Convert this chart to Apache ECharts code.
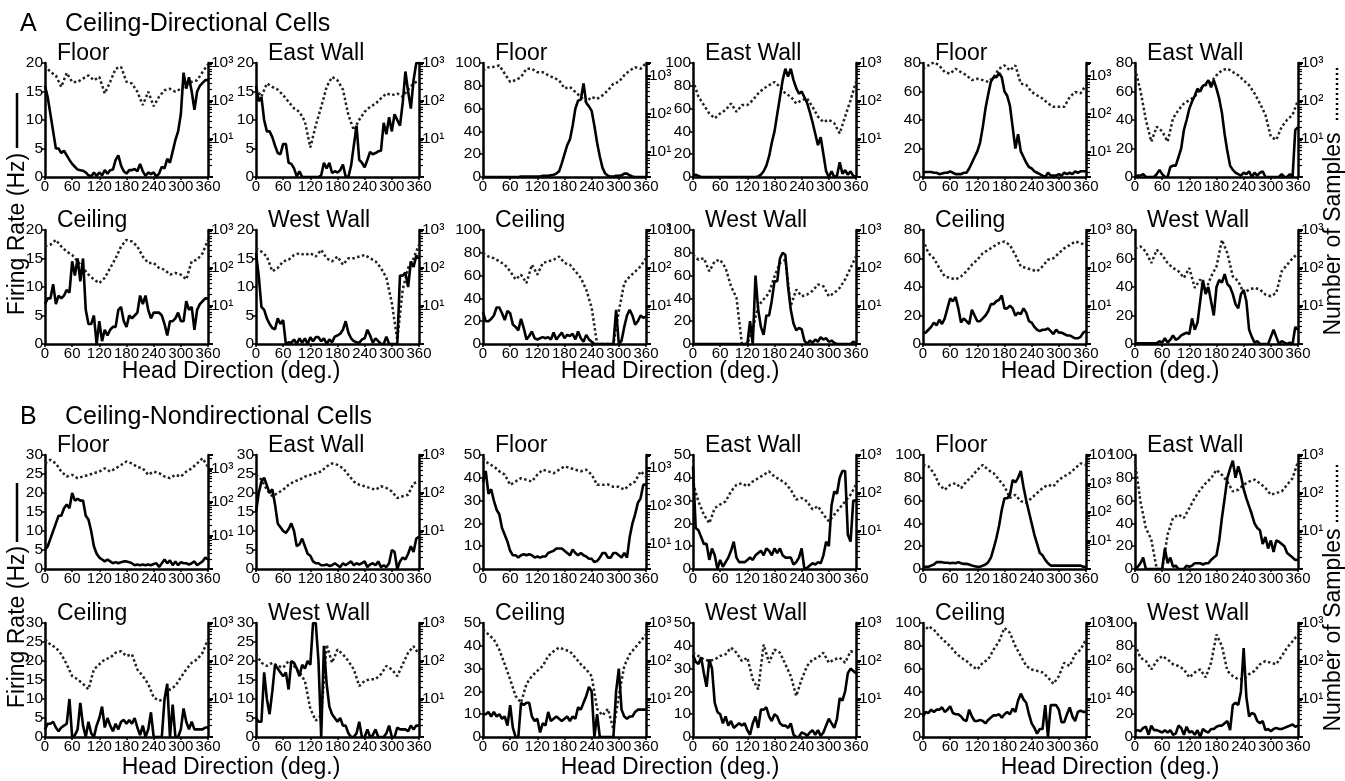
<!DOCTYPE html>
<html>
<head>
<meta charset="utf-8">
<script src="https://cdn.jsdelivr.net/npm/echarts@6/dist/echarts.min.js"></script>
<style>
  html, body { margin: 0; padding: 0; background: #fff; }
  #chart { width: 1345px; height: 781px; }
</style>
</head>
<body>
<div id="chart"></div>
<script>
// firing rate (Hz), one value every 6 deg from 0 to 360
var rateA1Floor = [16,14,11,8,5,5,4.2,4.6,3.8,3, 2.3,1.8,1.3,1.2,1.1,0.8,0.3,0.1,0.8,0.2, 0.8,0.3,1.2,0.6,1.2,1.3,3,3.8,2,1, 0.6,1.2,1.2,1.4,1,2.3,1,0.2,0.8,0.5, 0.8,0.1,0.6,1.8,1.5,3.2,2.5,4.5,6.5,8, 11,18.3,15.5,17.5,15,11.8,15,16,16.5,17, 17];
var rateA1East = [16,13.3,14,10,8,8,7,5.5,4.2,4, 5.8,5.8,2.5,2.3,1.5,0.1,1,0,0,0, 0,0,0,0,0.3,2.5,1.5,2.5,0.7,1, 0.8,1.2,2.2,0.1,0,2,5.5,9,3,2.5, 1.7,3,4.4,4,4.2,4.5,4.6,9.5,7.5,10.5, 8,11,10,9,13,18.5,15,12,17,20, 20];
var rateA2Floor = [0,0,0,0,0,0,0,0,0,0, 0,0,0,0,0.3,0.5,0.5,0.5,0.5,0.3, 0.5,0.5,1,1,1,1.5,2,3,5,12, 20,28,33,45,60,67,68,82,65,62, 58,45,30,18,8,3,1,0.5,0.5,1, 1,1.5,3,3,1.5,0.5,0,0,0,0, 0];
var rateA2East = [1,2,1,0,0,0,0,0,0,0, 0,0,0,0,0,0,0,0,0,0, 0,0,0,0,0.5,2,5,10,18,30, 40,55,70,85,95,88,95,85,78,73, 75,70,65,57,48,38,28,35,20,5, 0,5,0,1,13,3,6,2,5,1, 0];
var rateA3Floor = [3,3.5,3.5,3.5,3,3,2,2.5,3,3, 4,3,2,2,2,3,3,6,10,14, 18,24,35,48,58,67,70,70,73,70, 60,57,50,35,20,30,18,14,10,7, 6,4,3,2,1,0,3,1,1,1, 2,1,3,2,3,2,4,3,4,4, 4];
var rateA3East = [0,1,1,2,0,0,0,0,2,5, 2,0,0,7,8,8,14,20,33,40, 48,53,57,62,60,64,65,68,63,68, 62,55,45,30,18,8,5,3,2,1, 3,2,4,0,3,1,3,4,0,0, 0,0,0,0,2,0,0,2,0,33, 35];
var rateA1Ceiling = [7,8,8,10.5,7,8.5,8,8.5,9.5,9, 14.5,12,15,11,15,6,3.5,3.5,5,0, 4,0.5,2.5,1.5,2.5,3,3,6,6.5,4, 3,5,4.5,5,5.5,8.5,7,8.5,6,4.5, 5.5,5.5,5.5,5,3.5,1.5,4,4,4.5,5.5, 4,4,7.5,6,6.5,2.5,6,7,7.5,8, 8];
var rateA1West = [16,12,6.5,6,4.5,3.5,2.8,2.6,4.5,3.5, 4.2,0,0.3,0.2,0.8,0,1,0.2,1,0, 1.2,0.5,1.2,1.2,0.5,1,0,0.8,0.3,1.3, 1.5,1.8,2.5,4,2,1,0.5,0.3,0.2,0.8, 1,2.5,1.5,0.2,1,0.5,0,0,1.3,0, 0,0,0,12,12,12.5,10,14.5,13.5,15.5, 15];
var rateA2Ceiling = [28,20,20,22,25,32,32,27,21,29, 27,17,15,12,22,14,4,7,11,5, 4,5,6,5,6,4,10,4,7,10, 5,8,7,9,4,11,5,2,8,4, 2,0,0,0,0,0,0,0,0,30, 0,3,15,25,30,25,17,20,25,23, 24];
var rateA2West = [0,0,0,0,0,0,0,0,0,0, 0,0,0,0,0,0,0,0,0,0, 0,20,0,60,30,15,8,25,25,38, 55,55,75,80,78,50,30,18,12,14, 13,3,0,3,1,4,2,6,4,5, 2,3,1,0,0,0,0,0,0,2, 1];
var rateA3Ceiling = [8,8,10,12,15,13,17,14,18,25, 32,30,33,25,15,18,16,14,24,20, 16,16,18,20,23,28,28,30,31,34, 25,25,27,25,20,22,21,25,22,16, 15,12,10,9,10,10,11,9,7,10, 8,8,7,6,6,5,4,4,5,8, 9];
var rateA3West = [0.5,0.5,0.5,0.5,0.5,0.5,0.5,0.5,0.5,2, 1,4,1,3,6,3,4,6,7,8, 7,18,10,15,30,45,35,40,30,20, 40,45,43,49,42,40,35,28,25,35, 38,30,10,5,1,2,0,0,0,0, 5,10,5,0,2,1,0,1,0,12, 10];

var rateB1Floor = [5,6,8,10,12,14,14,16,17,16, 20,18,18.5,18,18,14,13,10,6,4, 3,2.5,2,2.5,2,1.5,1.8,1.5,1.8,2, 2,1.8,1.5,1,1.2,1,1.2,1,1.2,1, 1.3,1.5,0.5,1.5,2.5,1.5,2.3,1,2,1, 1.8,1.5,1.5,1.2,1.5,2,1,1.5,2,3, 2.5];
var rateB1East = [15,20,23,24,22,20,21,17,12,11, 10,9.5,10.5,12,10,6,6.5,8,6,4, 3.5,2,1.5,1.5,1,1,1.2,0.8,1,1.5, 1,0.5,1.5,1,1.5,2,1,1.5,1.2,1.5, 2,0.5,1.2,1.5,1,2,0.5,1,0.5,1.5, 5,4.5,0,2,3,2.5,4,6,4.5,8, 8.5];
var rateB2Floor = [38,43,33,35,30,26,24,18,15,12, 8,6,6,5,6,6.5,6,6.5,6,5, 5.5,5,5.5,5.5,7,7.5,8,9,9,9, 8,7,6,8.5,7,6,7,6,5.5,4.5, 4.5,3,3.5,5,7,7,5,5,7,7, 6,5,7,5,14,20,24,29,31,37, 37];
var rateB2East = [45,18,17,14,11,11,4,9,6,0, 4,1,3,5,8,12,5,3,3,3, 4,5,4,6,7,8,6,9,8,6, 9,7,9,6,5,5,5,2,3,5, 9,0,0.5,1.5,2.5,2,3,2.5,6,12, 10,28,34,33,40,43,43,15,12,30, 30];
var rateB3Floor = [2,2,2,3,4,6,6,6,5.5,5.5, 5,5.5,5,6,5,4.5,4.5,4,3,2.5, 2,2,3,4,6,10,18,27,38,52, 62,62,65,78,76,80,86,72,60,50, 40,30,22,14,12,8,5,3,3,3, 3,3,3,3,3,3,3,3,3,2, 2];
var rateB3East = [0,2,5,10,0,0,0,0,0,0, 0,18,5,10,2,3,0,0,0,3, 2,3,5,5,5,4,5,5,8,10, 12,25,45,62,80,88,95,80,90,82, 70,62,55,48,40,36,34,22,28,18, 25,15,25,24,22,20,14,12,10,8, 8];
var rateB1Ceiling = [2,3.5,3.5,4,2.5,1.5,2.5,3,3.5,10, 0,0.5,2,9,3,0,4,1,0,3, 5,8,2.5,5,3,1.5,3.5,2,4,4.5, 3.5,4.5,3.5,5,2.5,0.5,3,0,2,6.5, 0,0,0,0,10,14,0,8.5,0,0, 2,7.5,4,2,4,2,2,2,2,2.5, 2.5];
var rateB1West = [5,4,4,17,10,6,12,19,18,17, 16,17,12.5,20,19.5,18,16,19,18,20, 19,30,30,20,0,24,14,8,6,5, 4,5,3,3,1,0,0,1,4,0, 0,2,0,0.5,2,0,0,0,1,3, 0,0,2.5,2,2,2,1.5,3,2,3, 3];
var rateB2Ceiling = [10,10,11,9,11,9,10,8,9,5, 14,4,0,0,15,14,15,15,9,7, 8,2,6,5,11,7,8,9,8,7, 8,9,7,9,8,13,12,15,18,22, 20,0,10,0,0,0,0,0,0,20, 30,12,9,8,9,9,11,12,12,12, 12];
var rateB2West = [36,33,32,35,28,22,34,30,15,11, 10,6,9,5,7,4,5,6,5,6, 3,1,6,9,4,12,12,13,9,7, 10,9,6,5,5,4,6,1,0,0, 2,1.5,0.5,2,3,1,3,0.5,2,5, 8,6,4,8,17,16,20,28,30,29, 28];
var rateB3Ceiling = [18,22,21,24,22,24,24,26,22,24, 27,21,20,20,18,15,14,24,18,14, 14,15,14,12,15,17,19,19,20,17, 20,22,20,25,22,32,38,33,30,20, 12,8,3,7,7,28,0,28,28,28, 24,13,13,20,26,18,14,22,23,22, 22];
var rateB3West = [5,6,5,8,9,2,10,6,6,5, 4,6,4,6,2,3,10,8,2,9, 4,5,2,6,0,7,5,4,7,7, 9,10,10,12,14,6,28,30,28,40, 78,35,18,21,20,14,12,14,6,7, 5,7,8,7,7,8,9,10,11,9, 10];

// number of samples, one value every 12 deg from 0 to 360
var smpA1Floor = [870,580,470,235,550,316,316,390,470,350, 430,158,320,710,790,320,290,175,78,175, 73,130,192,210,175,210,260,320,350,580, 920];
var smpA1East = [213,130,290,235,200,142,95,64,52,29, 6,23,70,235,430,350,200,43,17,32, 52,70,85,117,158,142,158,130,200,290, 350];
var smpA2Floor = [1400,1700,1750,1900,1150,700,780,940,1550,1550, 1260,1260,1050,900,780,470,515,380,280,210, 280,250,310,420,630,700,1050,1400,1700,1550, 2200];
var smpA2East = [350,130,78,47,35,47,58,86,52,78, 78,105,158,213,260,316,235,158,130,86, 105,117,70,39,28,32,26,14,39,105, 316];
var smpA3Floor = [1550,1900,2300,1900,1260,1150,1550,1260,1050,780, 850,780,700,940,1550,1900,1400,1900,630,580, 380,310,255,190,155,155,155,280,380,350, 580];
var smpA3East = [710,190,32,8.5,21,16,8.5,35,58,86, 105,130,213,260,316,475,645,710,580,475, 350,260,158,86,43,11.5,9.5,21,32,43, 105];
var smpA1Ceiling = [370,410,550,370,270,220,150,100,67,50, 40,55,100,180,370,550,500,370,200,135, 135,100,90,67,74,67,50,150,165,245, 550];
var smpA1West = [330,270,200,82,100,150,165,220,245,220, 245,200,300,180,150,200,122,180,180,200, 220,180,150,100,55,12,1.3,27,100,180, 410];
var smpA2Ceiling = [245,200,180,150,122,82,50,67,40,122, 67,135,150,165,200,135,122,82,55,27, 9,1,1,1,1,7.4,40,60,80,110, 180];
var smpA2West = [220,165,180,82,150,165,100,33,16.5,1, 1,2.5,10,15,22,60,135,165,10,27, 18,20,25,37,33,18,22,30,50,100, 200];
var smpA3Ceiling = [550,245,180,100,60,55,50,60,82,122, 165,245,300,370,450,500,400,220,110,100, 90,82,110,165,180,245,330,400,500,450, 400];
var smpA3West = [330,370,270,135,300,220,135,100,82,55, 100,30,50,25,60,110,550,245,60,45, 22,27,30,27,20,18,22,82,122,180, 245];

var smpB1Floor = [1400,1800,1400,800,570,640,510,570,640,720, 800,1000,800,1000,1260,1600,1400,1100,1000,640, 800,720,570,510,640,570,800,1000,1400,2000, 1100];
var smpB1East = [300,225,122,82,100,122,165,200,225,270, 300,330,370,500,600,550,450,300,200,165, 150,135,122,150,135,110,74,82,90,180, 200];
var smpB2Floor = [1800,1300,1100,820,670,360,440,540,490,440, 670,900,820,730,900,1100,1000,900,820,900, 670,360,360,370,320,320,270,360,440,820, 600];
var smpB2East = [180,60,27,16,40,50,60,110,165,180, 150,200,245,300,370,270,225,180,122,67, 74,60,37,45,27,18,27,40,60,90, 165];
var smpB3Floor = [4500,4000,2300,900,600,900,1030,690,1180,1780, 3000,4500,3000,2300,1350,790,310,400,240,210, 310,465,690,900,790,1350,1780,2300,3400,5100, 4500];
var smpB3East = [670,60,12,6,1,1,8,22,27,22, 40,74,122,180,245,405,300,200,110,122, 165,200,225,180,135,90,100,110,165,245, 670];
var smpB1Ceiling = [370,270,225,150,82,40,33,25,18,60, 82,110,122,165,180,135,150,60,40,25, 11,9,10,18,22,37,60,90,110,165, 370];
var smpB1West = [150,90,74,90,74,67,100,74,50,30, 5.5,2.7,3.7,270,90,200,150,100,60,22, 30,33,33,45,74,60,40,82,165,245, 150];
var smpB2Ceiling = [670,500,370,200,82,33,12,8,25,40, 55,74,135,180,225,200,180,122,82,60, 40,5.5,3.7,5.5,1.6,12,74,150,225,330, 500];
var smpB2West = [165,135,110,100,110,135,150,225,165,100, 122,33,18,270,90,200,165,82,40,12, 33,74,110,122,165,90,110,122,90,180, 165];
var smpB3Ceiling = [550,820,670,450,330,245,165,122,100,74, 60,90,110,200,330,740,550,245,135,74, 60,55,50,37,25,40,90,74,150,200, 370];
var smpB3West = [270,122,100,60,100,135,110,82,74,60, 37,50,60,37,90,500,245,55,40,33, 33,45,55,82,100,90,82,135,225,330, 500];

var FONT = '"Liberation Sans", Arial, Helvetica, sans-serif';
var SUP = {1: '\u00b9', 2: '\u00b2', 3: '\u00b3', 4: '\u2074'};

var colLeft = [45, 256, 483, 693, 923, 1135];
var rowTop = [63, 230, 455, 623];
var plotW = 163, plotH = 114;

var panels = [
    {row: 0, col: 0, title: 'Floor', rate: rateA1Floor, smp: smpA1Floor, yMax: 20, yStep: 5, nMin: 1, nMax: 1000},
    {row: 0, col: 1, title: 'East Wall', rate: rateA1East, smp: smpA1East, yMax: 20, yStep: 5, nMin: 1, nMax: 1000},
    {row: 0, col: 2, title: 'Floor', rate: rateA2Floor, smp: smpA2Floor, yMax: 100, yStep: 20, nMin: 2.2, nMax: 2200},
    {row: 0, col: 3, title: 'East Wall', rate: rateA2East, smp: smpA2East, yMax: 100, yStep: 20, nMin: 1, nMax: 1000},
    {row: 0, col: 4, title: 'Floor', rate: rateA3Floor, smp: smpA3Floor, yMax: 80, yStep: 20, nMin: 2.2, nMax: 2200},
    {row: 0, col: 5, title: 'East Wall', rate: rateA3East, smp: smpA3East, yMax: 80, yStep: 20, nMin: 1, nMax: 1000},
    {row: 1, col: 0, title: 'Ceiling', rate: rateA1Ceiling, smp: smpA1Ceiling, yMax: 20, yStep: 5, nMin: 1, nMax: 1000},
    {row: 1, col: 1, title: 'West Wall', rate: rateA1West, smp: smpA1West, yMax: 20, yStep: 5, nMin: 1, nMax: 1000},
    {row: 1, col: 2, title: 'Ceiling', rate: rateA2Ceiling, smp: smpA2Ceiling, yMax: 100, yStep: 20, nMin: 1, nMax: 1000},
    {row: 1, col: 3, title: 'West Wall', rate: rateA2West, smp: smpA2West, yMax: 100, yStep: 20, nMin: 1, nMax: 1000},
    {row: 1, col: 4, title: 'Ceiling', rate: rateA3Ceiling, smp: smpA3Ceiling, yMax: 80, yStep: 20, nMin: 1, nMax: 1000},
    {row: 1, col: 5, title: 'West Wall', rate: rateA3West, smp: smpA3West, yMax: 80, yStep: 20, nMin: 1, nMax: 1000},
    {row: 2, col: 0, title: 'Floor', rate: rateB1Floor, smp: smpB1Floor, yMax: 30, yStep: 5, nMin: 1, nMax: 2500},
    {row: 2, col: 1, title: 'East Wall', rate: rateB1East, smp: smpB1East, yMax: 30, yStep: 5, nMin: 1, nMax: 1000},
    {row: 2, col: 2, title: 'Floor', rate: rateB2Floor, smp: smpB2Floor, yMax: 50, yStep: 10, nMin: 2.2, nMax: 2200},
    {row: 2, col: 3, title: 'East Wall', rate: rateB2East, smp: smpB2East, yMax: 50, yStep: 10, nMin: 1, nMax: 1000},
    {row: 2, col: 4, title: 'Floor', rate: rateB3Floor, smp: smpB3Floor, yMax: 100, yStep: 20, nMin: 1, nMax: 10000},
    {row: 2, col: 5, title: 'East Wall', rate: rateB3East, smp: smpB3East, yMax: 100, yStep: 20, nMin: 1, nMax: 1000},
    {row: 3, col: 0, title: 'Ceiling', rate: rateB1Ceiling, smp: smpB1Ceiling, yMax: 30, yStep: 5, nMin: 1, nMax: 1000},
    {row: 3, col: 1, title: 'West Wall', rate: rateB1West, smp: smpB1West, yMax: 30, yStep: 5, nMin: 1, nMax: 1000},
    {row: 3, col: 2, title: 'Ceiling', rate: rateB2Ceiling, smp: smpB2Ceiling, yMax: 50, yStep: 10, nMin: 1, nMax: 1000},
    {row: 3, col: 3, title: 'West Wall', rate: rateB2West, smp: smpB2West, yMax: 50, yStep: 10, nMin: 1, nMax: 1000},
    {row: 3, col: 4, title: 'Ceiling', rate: rateB3Ceiling, smp: smpB3Ceiling, yMax: 100, yStep: 20, nMin: 1, nMax: 1000},
    {row: 3, col: 5, title: 'West Wall', rate: rateB3West, smp: smpB3West, yMax: 100, yStep: 20, nMin: 1, nMax: 1000}
];

// values spread evenly over 0..360 deg
function toPoints(arr) {
    var step = 360 / (arr.length - 1);
    return arr.map(function (v, k) { return [k * step, v]; });
}

function powLabel(v) {
    var e = Math.log10(v), r = Math.round(e);
    if (r < 1 || Math.abs(e - r) > 1e-6) return '';
    return '10' + SUP[r];
}

function txt(x, y, text, size, extra) {
    var el = {
        type: 'text', x: x, y: y, silent: true,
        style: {
            text: text, fill: '#000', fontSize: size, fontFamily: FONT,
            textAlign: 'left', align: 'left', textVerticalAlign: 'middle', verticalAlign: 'middle'
        }
    };
    if (extra) {
        for (var k in extra) {
            if (k === 'align') { el.style.textAlign = extra[k]; el.style.align = extra[k]; }
            else el[k] = extra[k];
        }
    }
    return el;
}

var option = {
    animation: false,
    backgroundColor: '#fff',
    grid: [], xAxis: [], yAxis: [], series: [], graphic: []
};

var axisBase = {
    axisLine: {show: true, lineStyle: {color: '#000', width: 2.5}},
    splitLine: {show: false}
};

panels.forEach(function (p, i) {
    var left = colLeft[p.col], top = rowTop[p.row];
    option.grid.push({left: left, top: top, width: plotW, height: plotH});

    option.xAxis.push(Object.assign({
        type: 'value', gridIndex: i, min: 0, max: 360, interval: 60,
        axisTick: {show: true, length: 3, lineStyle: {color: '#000', width: 1.5}},
        axisLabel: {color: '#000', fontSize: 15, fontFamily: FONT, margin: 2}
    }, axisBase));

    option.yAxis.push(Object.assign({
        type: 'value', gridIndex: i, min: 0, max: p.yMax, interval: p.yStep, position: 'left',
        axisTick: {show: true, length: 3, lineStyle: {color: '#000', width: 1.5}},
        axisLabel: {color: '#000', fontSize: 15.5, fontFamily: FONT, margin: 2}
    }, axisBase));

    option.yAxis.push(Object.assign({
        type: 'log', logBase: 10, gridIndex: i, min: p.nMin, max: p.nMax, position: 'right',
        axisTick: {show: true, length: 5, lineStyle: {color: '#000', width: 2}},
        minorTick: {show: true, splitNumber: 9, length: 4, lineStyle: {color: '#000', width: 1.2}},
        axisLabel: {color: '#000', fontSize: 15.5, fontFamily: FONT, margin: 3, formatter: powLabel}
    }, axisBase));

    option.series.push({
        type: 'line', xAxisIndex: i, yAxisIndex: 2 * i + 1,
        data: toPoints(p.smp), showSymbol: false, silent: true,
        lineStyle: {color: '#222', width: 2.5, type: 'dotted'}
    });
    option.series.push({
        type: 'line', xAxisIndex: i, yAxisIndex: 2 * i,
        data: toPoints(p.rate), showSymbol: false, silent: true,
        lineStyle: {color: '#000', width: 2.6}
    });

    option.graphic.push(txt(left + 12, top - 9, p.title, 23));
});

// section headings
option.graphic.push(txt(20, 24, 'A', 25));
option.graphic.push(txt(65, 24, 'Ceiling-Directional Cells', 25));
option.graphic.push(txt(20, 417, 'B', 25));
option.graphic.push(txt(65, 417, 'Ceiling-Nondirectional Cells', 25));

// shared axis names
[231, 670, 1110].forEach(function (cx) {
    option.graphic.push(txt(cx, 372, 'Head Direction (deg.)', 23, {align: 'center'}));
    option.graphic.push(txt(cx, 768, 'Head Direction (deg.)', 23, {align: 'center'}));
});

[[234, 93, 148], [627, 483, 542]].forEach(function (r) {
    option.graphic.push(txt(18, r[0], 'Firing Rate (Hz)', 23, {align: 'center', rotation: Math.PI / 2}));
    option.graphic.push({type: 'line', silent: true, shape: {x1: 17, y1: r[1], x2: 17, y2: r[2]},
        style: {stroke: '#000', lineWidth: 2.5}});
});

[[234, 68, 123], [630, 465, 522]].forEach(function (r) {
    option.graphic.push(txt(1334, r[0], 'Number of Samples', 23, {align: 'center', rotation: Math.PI / 2}));
    option.graphic.push({type: 'line', silent: true, shape: {x1: 1337, y1: r[1], x2: 1337, y2: r[2]},
        style: {stroke: '#000', lineWidth: 2.5, lineDash: [2, 3]}});
});

var chart = echarts.init(document.getElementById('chart'));
chart.setOption(option);
</script>
</body>
</html>
